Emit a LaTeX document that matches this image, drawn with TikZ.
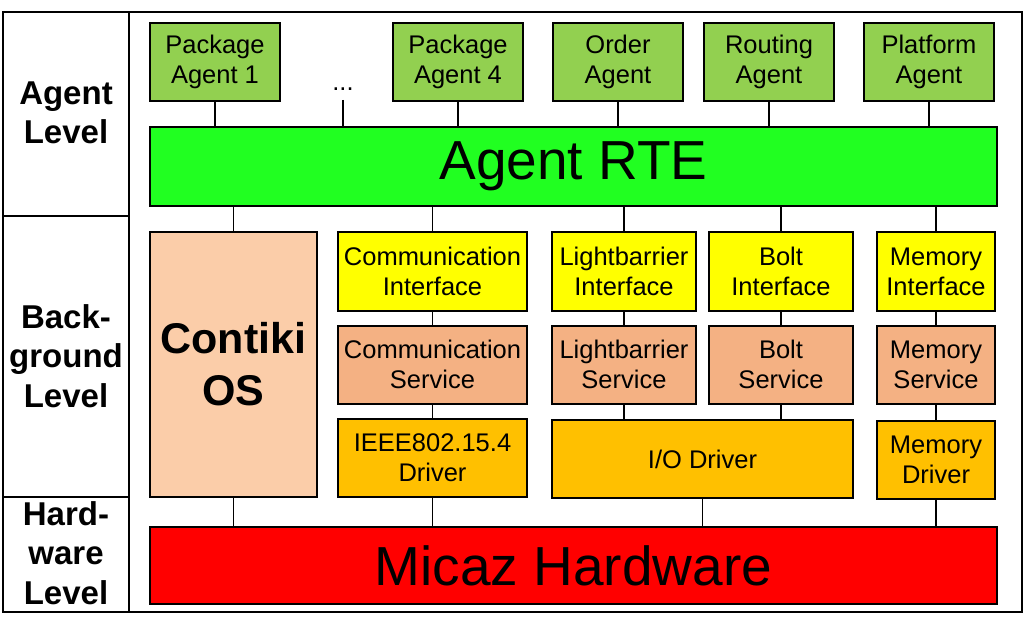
\documentclass[tikz,border=0pt]{standalone}
\usepackage{fontspec}
\setmainfont{Liberation Sans}
\usepackage{tikz}
\usetikzlibrary{positioning}

\definecolor{agentgreen}{HTML}{92D050}
\definecolor{rtegreen}{HTML}{21FF21}
\definecolor{osorange}{HTML}{FBCDA9}
\definecolor{ifyellow}{HTML}{FFFF00}
\definecolor{srvorange}{HTML}{F4B183}
\definecolor{drvorange}{HTML}{FFC000}
\definecolor{hwred}{HTML}{FF0000}

\newcommand{\boxfont}{\fontsize{25.5}{30}\selectfont}
\newcommand{\levelfont}{\fontsize{33}{39.5}\selectfont\bfseries}
\newcommand{\osfont}{\fontsize{43}{52}\selectfont\bfseries}
\newcommand{\hugefont}{\fontsize{55}{64}\selectfont}

\begin{document}
\begin{tikzpicture}[x=1pt, y=-1pt,
	box/.style={draw, line width=1.8pt, inner sep=0pt, align=center, font=\boxfont},
	agentbox/.style={box, fill=agentgreen, minimum width=130pt, minimum height=78pt},
	ifbox/.style={box, fill=ifyellow, minimum height=79pt},
	srvbox/.style={box, fill=srvorange, minimum height=78pt},
	drvbox/.style={box, fill=drvorange, minimum height=78pt},
	levellabel/.style={align=center, font=\levelfont},
	link/.style={line width=1.3pt}]

		\useasboundingbox (0,0) rectangle (1034,618);

		% frame with level column
		\draw[line width=1.8pt] (3,12) rectangle (1022,612);
		\draw[line width=1.8pt] (129,12) -- (129,612);
		\draw[line width=1.8pt] (3,216) -- (129,216);
		\draw[line width=1.8pt] (3,497) -- (129,497);

		\node[levellabel] (agentlvl) at (66,113) {Agent\\Level};
		\node[levellabel] (bglvl) at (66,356) {Back-\\ground\\Level};
		\node[levellabel] (hwlvl) at (66,553) {Hard-\\ware\\Level};

		% agent level
		\node[agentbox] (pkgone) at (215,62) {Package\\Agent 1};
		\node[font=\boxfont, inner sep=0pt, anchor=base] (dots) at (343,91) {...};
		\coordinate (dotsend) at (343,100);
		\node[agentbox] (pkgfour) at (458,62) {Package\\Agent 4};
		\node[agentbox] (order) at (618,62) {Order\\Agent};
		\node[agentbox] (routing) at (769,62) {Routing\\Agent};
		\node[agentbox] (platform) at (929,62) {Platform\\Agent};

		\node[box, fill=rtegreen, minimum width=847pt, minimum height=79pt, font=\hugefont] (rte) at (573.5,166.5) {Agent RTE};

		% background level
		\node[box, fill=osorange, minimum width=167pt, minimum height=265pt, font=\osfont] (contiki) at (233.5,364.5) {Contiki\\OS};

		\node[ifbox, minimum width=189pt] (commif) at (432.5,271.5) {Communication\\Interface};
		\node[ifbox, minimum width=144pt] (lbif) at (624,271.5) {Lightbarrier\\Interface};
		\node[ifbox, minimum width=144pt] (boltif) at (781,271.5) {Bolt\\Interface};
		\node[ifbox, minimum width=118pt] (memif) at (936,271.5) {Memory\\Interface};

		\node[srvbox, minimum width=189pt] (commsrv) [below = 13pt of commif] {Communication\\Service};
		\node[srvbox, minimum width=144pt] (lbsrv) [below = 13pt of lbif] {Lightbarrier\\Service};
		\node[srvbox, minimum width=144pt] (boltsrv) [below = 13pt of boltif] {Bolt\\Service};
		\node[srvbox, minimum width=118pt] (memsrv) [below = 13pt of memif] {Memory\\Service};

		\node[drvbox, minimum width=189pt] (commdrv) at (432.5,458) {IEEE802.15.4\\Driver};
		\node[drvbox, minimum width=301pt] (iodrv) at (702.5,459) {I/O Driver};
		\node[drvbox, minimum width=118pt] (memdrv) at (936,460) {Memory\\Driver};

		% hardware level
		\node[box, fill=hwred, minimum width=847pt, minimum height=77pt, font=\hugefont] (hw) at (573.5,565.5) {Micaz Hardware};

		% connections
		\draw[link] (pkgone.south) -- (pkgone.south |- rte.north);
		\draw[link] (dotsend) -- (dotsend |- rte.north);
		\draw[link] (pkgfour.south) -- (pkgfour.south |- rte.north);
		\draw[link] (order.south) -- (order.south |- rte.north);
		\draw[link] (routing.south) -- (routing.south |- rte.north);
		\draw[link] (platform.south) -- (platform.south |- rte.north);

		\draw[link] (contiki.north) -- (contiki.north |- rte.south);
		\draw[link] (commif.north) -- (commif.north |- rte.south);
		\draw[link] (lbif.north) -- (lbif.north |- rte.south);
		\draw[link] (boltif.north) -- (boltif.north |- rte.south);
		\draw[link] (memif.north) -- (memif.north |- rte.south);

		\draw[link] (commif) -- (commsrv);
		\draw[link] (lbif) -- (lbsrv);
		\draw[link] (boltif) -- (boltsrv);
		\draw[link] (memif) -- (memsrv);

		\draw[link] (commsrv) -- (commdrv);
		\draw[link] (lbsrv.south) -- (lbsrv.south |- iodrv.north);
		\draw[link] (boltsrv.south) -- (boltsrv.south |- iodrv.north);
		\draw[link] (memsrv) -- (memdrv);

		\draw[link] (contiki.south) -- (contiki.south |- hw.north);
		\draw[link] (commdrv) -- (hw.north -| commdrv);
		\draw[link] (iodrv) -- (hw.north -| iodrv);
		\draw[link] (memdrv) -- (hw.north -| memdrv);
	\end{tikzpicture}
\end{document}
